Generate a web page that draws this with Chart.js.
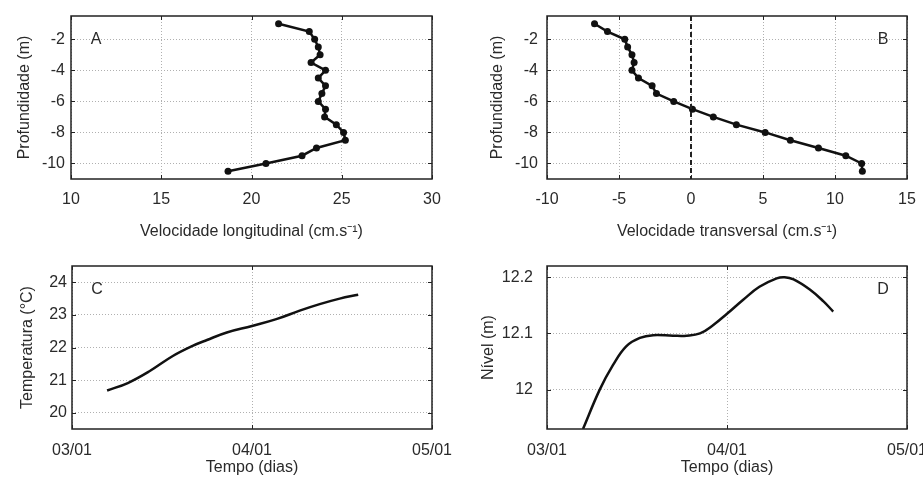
<!DOCTYPE html>
<html>
<head>
<meta charset="utf-8">
<script src="https://cdn.jsdelivr.net/npm/chart.js@4"></script>
<style>
  body { margin: 0; background: #fff; }
  #wrap { position: relative; width: 923px; height: 481px; }
  .box { position: absolute; }
</style>
</head>
<body>
<div id="wrap">
  <div class="box" style="left:0;top:0;width:460px;height:245px"><canvas id="chartA"></canvas></div>
  <div class="box" style="left:460px;top:0;width:463px;height:245px"><canvas id="chartB"></canvas></div>
  <div class="box" style="left:0;top:245px;width:460px;height:236px"><canvas id="chartC"></canvas></div>
  <div class="box" style="left:460px;top:245px;width:463px;height:236px"><canvas id="chartD"></canvas></div>
</div>
<script>
//data
const depths = [-1, -1.5, -2, -2.5, -3, -3.5, -4, -4.5, -5, -5.5, -6, -6.5, -7, -7.5, -8, -8.5, -9, -9.5, -10, -10.5];
const velLong = [21.5, 23.2, 23.5, 23.7, 23.8, 23.3, 24.1, 23.7, 24.1, 23.9, 23.7, 24.1, 24.05, 24.7, 25.1, 25.2, 23.6, 22.8, 20.8, 18.7];
const velTrans = [-6.7, -5.8, -4.6, -4.4, -4.1, -3.95, -4.1, -3.65, -2.7, -2.4, -1.2, 0.1, 1.55, 3.15, 5.15, 6.9, 8.85, 10.75, 11.85, 11.9];
const zeroLine = 0;

// time in days since 03/01
const tempTime = [0.195, 0.31, 0.43, 0.56, 0.67, 0.75, 0.86, 1.0, 1.135, 1.265, 1.376, 1.487, 1.59];
const temperatura = [20.68, 20.91, 21.27, 21.74, 22.05, 22.23, 22.46, 22.66, 22.87, 23.13, 23.33, 23.5, 23.62];
const nivelTime = [0.2, 0.293, 0.367, 0.44, 0.516, 0.59, 0.70, 0.776, 0.85, 0.924, 1.0, 1.09, 1.18, 1.276, 1.32, 1.37, 1.46, 1.536, 1.59];
const nivel = [11.93, 12.0, 12.044, 12.077, 12.092, 12.097, 12.096, 12.096, 12.1, 12.115, 12.135, 12.16, 12.183, 12.198, 12.2, 12.196, 12.178, 12.157, 12.139];

const depthTicks = [-2, -4, -6, -8, -10];
const longTicks = [10, 15, 20, 25, 30];
const transTicks = [-10, -5, 0, 5, 10, 15];
const dayTicks = [0, 1, 2];
const dayLabels = ['03/01', '04/01', '05/01'];
const tempTicks = [20, 21, 22, 23, 24];
const nivelTicks = [12, 12.1, 12.2];
const nivelLabels = ['12', '12.1', '12.2'];

const FONT = "'Liberation Sans', Arial, sans-serif";
Chart.defaults.font.family = FONT;
Chart.defaults.color = '#2a2a2a';

//frame + inward ticks + panel letter
const framePlugin = {
  id: 'frame',
  afterDatasetsDraw(chart, args, opts) {
    const { ctx, chartArea: a, scales } = chart;
    ctx.save();
    ctx.strokeStyle = '#222';
    ctx.lineWidth = 1;
    ctx.beginPath();
    scales.x.ticks.forEach(t => {
      const px = Math.round(scales.x.getPixelForValue(t.value)) + 0.5;
      ctx.moveTo(px, a.bottom); ctx.lineTo(px, a.bottom - 4);
      ctx.moveTo(px, a.top); ctx.lineTo(px, a.top + 4);
    });
    scales.y.ticks.forEach(t => {
      const py = Math.round(scales.y.getPixelForValue(t.value)) + 0.5;
      ctx.moveTo(a.left, py); ctx.lineTo(a.left + 4, py);
      ctx.moveTo(a.right, py); ctx.lineTo(a.right - 4, py);
    });
    ctx.stroke();
    ctx.lineWidth = 1.5;
    ctx.strokeRect(a.left, a.top, a.right - a.left, a.bottom - a.top);
    ctx.fillStyle = '#2a2a2a';
    ctx.font = '16px ' + FONT;
    ctx.textBaseline = 'middle';
    ctx.textAlign = 'center';
    const lx = opts.side === 'right' ? a.right - 24 : a.left + 25;
    ctx.fillText(opts.letter, lx, a.top + 24);
    ctx.restore();
  }
};

const makeChart = (id, cfg) => {
  const yTicks = cfg.yTicks, xTicks = cfg.xTicks;
  return new Chart(document.getElementById(id), {
    type: 'scatter',
    data: { datasets: cfg.datasets },
    plugins: [framePlugin],
    options: {
      responsive: true,
      maintainAspectRatio: false,
      animation: false,
      layout: { padding: cfg.padding },
      plugins: {
        legend: { display: false },
        tooltip: { enabled: false },
        frame: { letter: cfg.letter, side: cfg.side }
      },
      scales: {
        x: {
          type: 'linear',
          min: cfg.xMin, max: cfg.xMax,
          afterBuildTicks: s => { s.ticks = xTicks.map(v => ({ value: v })); },
          afterFit: s => { s.height = cfg.xH; s.paddingLeft = 0; s.paddingRight = 0; },
          grid: { color: '#b0b0b0', drawTicks: false },
          border: { display: false, dash: [1, 2] },
          ticks: {
            padding: cfg.xPad, font: { size: 16 }, maxRotation: 0,
            callback: cfg.xLabel || (v => v)
          },
          title: { display: true, text: cfg.xTitle, font: { size: 16 }, padding: { top: 6 } }
        },
        y: {
          type: 'linear',
          min: cfg.yMin, max: cfg.yMax,
          afterBuildTicks: s => { s.ticks = yTicks.map(v => ({ value: v })); },
          afterFit: s => { s.width = cfg.yW; s.paddingTop = 0; s.paddingBottom = 0; },
          grid: { color: '#b0b0b0', drawTicks: false },
          border: { display: false, dash: [1, 2] },
          ticks: { padding: cfg.yPad, font: { size: 16 }, callback: cfg.yLabel || (v => v) },
          title: { display: true, text: cfg.yTitle, font: { size: 16 } }
        }
      }
    }
  });
};

const profile = (xs) => ({
  data: xs.map((v, i) => ({ x: v, y: depths[i] })),
  showLine: true,
  borderColor: '#111',
  backgroundColor: '#111',
  borderWidth: 2.5,
  pointRadius: 3.5,
  pointBorderWidth: 0
});

const curve = (ts, vs) => ({
  data: ts.map((t, i) => ({ x: t, y: vs[i] })),
  showLine: true,
  borderColor: '#111',
  borderWidth: 2.5,
  pointRadius: 0,
  tension: 0.4
});

makeChart('chartA', {
  datasets: [profile(velLong)],
  padding: { top: 16, right: 28, left: 11, bottom: 0 },
  xMin: 10, xMax: 30, xTicks: longTicks, xH: 66, xPad: 11,
  yMin: -11, yMax: -0.5, yTicks: depthTicks, yW: 60, yPad: 6,
  xTitle: 'Velocidade longitudinal (cm.s⁻¹)', yTitle: 'Profundidade (m)',
  letter: 'A', side: 'left'
});

makeChart('chartB', {
  datasets: [
    {
      data: [{ x: zeroLine, y: -0.5 }, { x: zeroLine, y: -11 }],
      showLine: true, borderColor: '#222', borderWidth: 2, borderDash: [5, 3], pointRadius: 0
    },
    profile(velTrans)
  ],
  padding: { top: 16, right: 16, left: 24, bottom: 0 },
  xMin: -10, xMax: 15, xTicks: transTicks, xH: 66, xPad: 11,
  yMin: -11, yMax: -0.5, yTicks: depthTicks, yW: 63, yPad: 9,
  xTitle: 'Velocidade transversal (cm.s⁻¹)', yTitle: 'Profundidade (m)',
  letter: 'B', side: 'right'
});

makeChart('chartC', {
  datasets: [curve(tempTime, temperatura)],
  padding: { top: 21, right: 28, left: 14, bottom: 0 },
  xMin: 0, xMax: 2, xTicks: dayTicks, xH: 52, xPad: 12,
  xLabel: v => dayLabels[dayTicks.indexOf(v)],
  yMin: 19.5, yMax: 24.5, yTicks: tempTicks, yW: 58, yPad: 5,
  xTitle: 'Tempo (dias)', yTitle: 'Temperatura (°C)',
  letter: 'C', side: 'left'
});

makeChart('chartD', {
  datasets: [curve(nivelTime, nivel)],
  padding: { top: 21, right: 16, left: 15, bottom: 0 },
  xMin: 0, xMax: 2, xTicks: dayTicks, xH: 52, xPad: 12,
  xLabel: v => dayLabels[dayTicks.indexOf(v)],
  yMin: 11.93, yMax: 12.22, yTicks: nivelTicks, yW: 72, yPad: 14,
  yLabel: v => nivelLabels[nivelTicks.indexOf(v)],
  xTitle: 'Tempo (dias)', yTitle: 'Nível (m)',
  letter: 'D', side: 'right'
});
</script>
</body>
</html>
